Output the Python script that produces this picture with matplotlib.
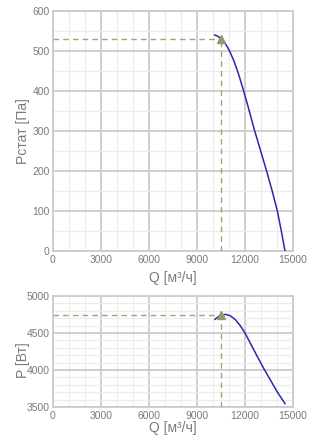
import matplotlib
matplotlib.use("Agg")
import matplotlib.pyplot as plt
from matplotlib.ticker import MultipleLocator

# Data
q_pressure = [10100, 10300, 10520, 10750, 11000, 11300, 11600, 11900, 12200,
              12550, 12950, 13350, 13700, 14020, 14270, 14500]
p_static = [540, 537, 530, 520, 503, 476, 442, 402, 360,
            308, 254, 200, 150, 100, 50, 0]

q_power = [10120, 10300, 10540, 10800, 11100, 11400, 11700, 12000, 12400,
           12800, 13200, 13600, 14000, 14500]
p_power = [4685, 4715, 4743, 4752, 4730, 4680, 4600, 4500, 4335,
           4170, 4010, 3860, 3710, 3545]

op_q = 10520
op_pstat = 531
op_power = 4745

x_ticks = [0, 3000, 6000, 9000, 12000, 15000]
top_yticks = [0, 100, 200, 300, 400, 500, 600]
bot_yticks = [3500, 4000, 4500, 5000]

plt.rcParams['font.family'] = ['Liberation Sans', 'DejaVu Sans']

TXT = '#7a7a7a'
MAJ = '#cbcbcb'
MIN = '#ececec'
CURVE = '#2a2aa8'
DASH = '#a2a274'
MARK = '#8e9a6c'

fig = plt.figure(figsize=(3.34, 4.48), dpi=100)
W, H = 334, 448

def make_ax(left, top, right, bottom):
    return fig.add_axes([left / W, 1 - bottom / H, (right - left) / W, (bottom - top) / H])

ax1 = make_ax(53, 11, 293, 251)
ax2 = make_ax(53, 296, 293, 407)

def style(ax, ymin, ymax, yminor, yticks):
    ax.set_xlim(0, 15000)
    ax.set_ylim(ymin, ymax)
    ax.set_xticks(x_ticks)
    ax.set_yticks(yticks)
    ax.xaxis.set_minor_locator(MultipleLocator(1000))
    ax.yaxis.set_minor_locator(MultipleLocator(yminor))
    ax.grid(which='major', color=MAJ, lw=1.3)
    ax.grid(which='minor', color=MIN, lw=0.8)
    ax.set_axisbelow(True)
    for s in ax.spines.values():
        s.set_color(MAJ)
        s.set_linewidth(1.3)
    ax.tick_params(which='both', length=0, colors=TXT, labelsize=7.5)
    ax.tick_params(axis='x', pad=3)
    ax.tick_params(axis='y', pad=2.5)

style(ax1, 0, 600, 50, top_yticks)
style(ax2, 3500, 5000, 100, bot_yticks)

# top chart
ax1.plot([0, op_q], [op_pstat, op_pstat], color=DASH, lw=1, dashes=(4, 3), zorder=3)
ax1.plot([op_q, op_q], [0, op_pstat], color=DASH, lw=1, dashes=(4, 3), zorder=3)
ax1.plot(q_pressure, p_static, color=CURVE, lw=1.1, zorder=4)
ax1.plot([op_q], [op_pstat], marker='^', color=MARK, ms=6, zorder=5, clip_on=False)
ax1.set_xlabel('Q [м³/ч]', color=TXT, fontsize=10, labelpad=4)
ax1.set_ylabel('Рстат [Па]', color=TXT, fontsize=10)
ax1.yaxis.set_label_coords(-0.095, 0.5)

# bottom chart
ax2.plot([0, op_q], [op_power, op_power], color=DASH, lw=1, dashes=(4, 3), zorder=3)
ax2.plot([op_q, op_q], [3500, op_power], color=DASH, lw=1, dashes=(4, 3), zorder=3)
ax2.plot(q_power, p_power, color=CURVE, lw=1.1, zorder=4)
ax2.plot([op_q], [op_power], marker='^', color=MARK, ms=6, zorder=5, clip_on=False)
ax2.set_xlabel('Q [м³/ч]', color=TXT, fontsize=10, labelpad=0)
ax2.set_ylabel('P [Вт]', color=TXT, fontsize=10)
ax2.yaxis.set_label_coords(-0.095, 0.42)

fig.savefig('out.png', dpi=100)
